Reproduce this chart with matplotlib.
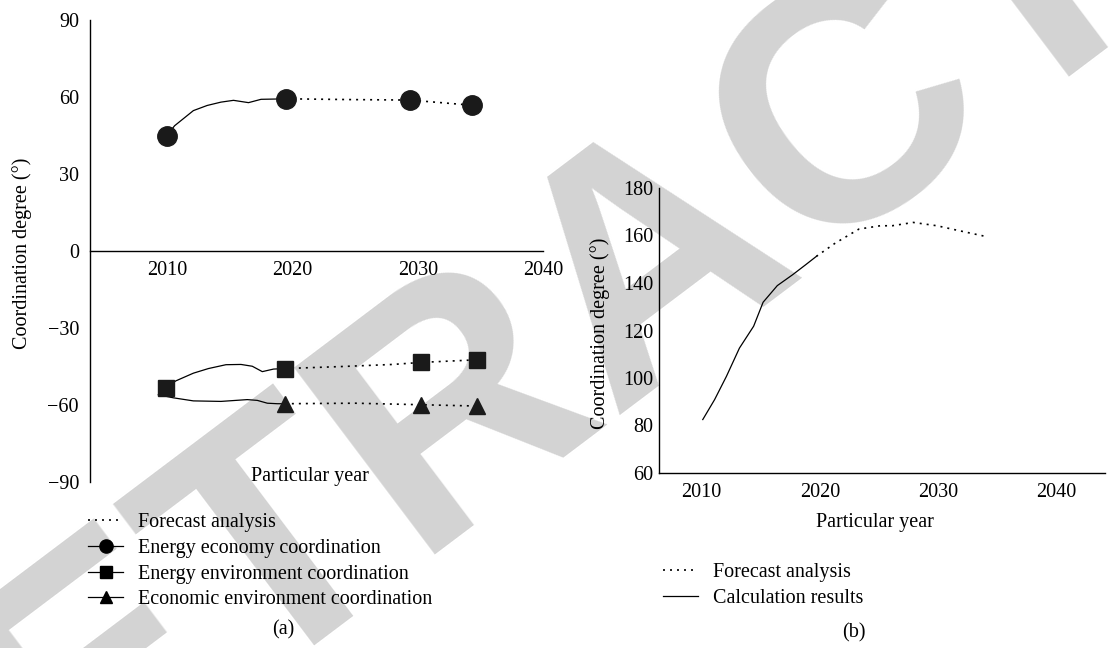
import matplotlib
matplotlib.use("Agg")
import matplotlib.pyplot as plt
from matplotlib.lines import Line2D

plt.rcParams['font.family'] = ['Liberation Serif', 'DejaVu Serif']
plt.rcParams['font.size'] = 14.5

W, H = 1109, 648

# --- (a) coordination degree of the three subsystems
ee_calc_x = [2010.0, 2010.6, 2012.1, 2013.2, 2014.3, 2015.3, 2016.5, 2017.5, 2018.6, 2019.5]
ee_calc = [45.0, 48.8, 54.7, 56.7, 58.0, 58.7, 57.8, 59.1, 59.2, 59.3]
ee_fc_x = [2019.5, 2024.5, 2029.4, 2034.3]
ee_fc = [59.3, 59.0, 58.8, 56.8]

env_calc_x = [2009.9, 2010.7, 2012.1, 2013.3, 2014.7, 2015.9, 2016.8, 2017.6, 2018.5, 2019.4]
env_calc = [-53.3, -50.6, -47.6, -45.8, -44.3, -44.2, -44.9, -47.0, -46.0, -45.8]
env_fc_x = [2019.4, 2024.0, 2028.0, 2030.3, 2034.7]
env_fc = [-45.8, -45.0, -44.2, -43.4, -42.4]

eco_calc_x = [2009.3, 2010.5, 2012.1, 2014.3, 2016.4, 2017.2, 2018.0, 2018.8, 2019.4]
eco_calc = [-56.0, -57.2, -58.4, -58.6, -57.9, -58.2, -59.3, -59.5, -59.5]
eco_fc_x = [2019.4, 2025.0, 2030.3, 2034.7]
eco_fc = [-59.5, -59.3, -59.9, -60.4]

# --- (b) overall coordination degree
tot_calc_x = [2010.1, 2011.1, 2012.1, 2013.2, 2014.4, 2015.2, 2016.4, 2017.7, 2018.8, 2019.7]
tot_calc = [82.5, 90.9, 100.7, 112.6, 121.8, 131.9, 138.9, 143.5, 147.7, 151.2]
tot_fc_x = [2019.7, 2021.3, 2023.3, 2025.1, 2026.1, 2027.9, 2029.9, 2031.8, 2034.2]
tot_fc = [151.2, 156.8, 162.7, 164.1, 164.1, 165.5, 164.1, 162.0, 159.4]

year_ticks = [2010, 2020, 2030, 2040]

dotted = (0, (1.2, 3))
lw = 0.9


def px_box(left, top, right, bottom):
    return [left / W, 1 - bottom / H, (right - left) / W, (bottom - top) / H]


fig = plt.figure(figsize=(W / 100, H / 100), dpi=100)

# grey stamp behind everything
fig.text(655 / W, 1 - 262 / H, "RETRACTED", rotation=37, fontsize=245,
         family='Liberation Sans', weight='bold', color='#d3d3d3',
         ha='center', va='center', zorder=-1)

# ---------- panel (a)
ax1 = fig.add_axes(px_box(90, 20, 543, 482))
ax1.patch.set_alpha(0)
ax1.set_xlim(2003.85, 2040)
ax1.set_ylim(-90, 90)
for s in ['top', 'right']:
    ax1.spines[s].set_visible(False)
ax1.spines['bottom'].set_position(('data', 0))
for s in ['left', 'bottom']:
    ax1.spines[s].set_linewidth(1.0)
ax1.set_xticks(year_ticks)
ax1.set_yticks(range(-90, 91, 30))
ax1.tick_params(length=0)
ax1.tick_params(axis='x', pad=7)
ax1.tick_params(axis='y', pad=8)

series = [
    (ee_calc_x, ee_calc, ee_fc_x, ee_fc, 'o', 14, [0, 2, 3]),
    (env_calc_x, env_calc, env_fc_x, env_fc, 's', 12, [0, 3, 4]),
    (eco_calc_x, eco_calc, eco_fc_x, eco_fc, '^', 12, [0, 2, 3]),
]
for cx, cy, fx, fy, mk, ms, every in series:
    ax1.plot(cx, cy, color='k', lw=lw, zorder=2)
    ax1.plot(fx, fy, color='k', lw=1.2, ls=dotted, zorder=2)
    ax1.plot(fx, fy, ls='none', marker=mk, ms=ms, color='#1a1a1a',
             markevery=every, zorder=3)
# starting markers of the 2010 values
ax1.plot(env_calc_x[:1], env_calc[:1], ls='none', marker='s', ms=12,
         color='#1a1a1a', zorder=3)
ax1.plot(ee_calc_x[:1], ee_calc[:1], ls='none', marker='o', ms=14,
         color='#1a1a1a', zorder=3)

fig.text(22 / W, 1 - 253 / H, "Coordination degree (°)", rotation=90,
         ha='center', va='center')
fig.text(310 / W, 1 - 477 / H, "Particular year", ha='center', va='center')

h_a = [
    Line2D([], [], color='k', lw=1.2, ls=dotted),
    Line2D([], [], color='k', lw=lw, marker='o', ms=9.5),
    Line2D([], [], color='k', lw=lw, marker='s', ms=8.5),
    Line2D([], [], color='k', lw=lw, marker='^', ms=8.5),
]
labels_a = ["Forecast analysis", "Energy economy coordination",
            "Energy environment coordination", "Economic environment coordination"]
fig.legend(h_a, labels_a, loc='upper left', bbox_to_anchor=(78 / W, 1 - 503 / H),
           frameon=False, borderpad=0, handlelength=1.75, handletextpad=0.75,
           labelspacing=0.33)
fig.text(283 / W, 1 - 630 / H, "(a)", ha='center', va='center')

# ---------- panel (b)
ax2 = fig.add_axes(px_box(659, 188, 1105, 473))
ax2.patch.set_alpha(0)
ax2.set_xlim(2006.4, 2044.1)
ax2.set_ylim(60, 180)
for s in ['top', 'right']:
    ax2.spines[s].set_visible(False)
for s in ['left', 'bottom']:
    ax2.spines[s].set_linewidth(1.0)
ax2.set_xticks(year_ticks)
ax2.set_yticks(range(60, 181, 20))
ax2.tick_params(length=0)
ax2.tick_params(axis='x', pad=7)
ax2.tick_params(axis='y', pad=4)

ax2.plot(tot_calc_x, tot_calc, color='k', lw=lw)
ax2.plot(tot_fc_x, tot_fc, color='k', lw=1.2, ls=dotted)

fig.text(600 / W, 1 - 333 / H, "Coordination degree (°)", rotation=90,
         ha='center', va='center')
fig.text(875 / W, 1 - 522 / H, "Particular year", ha='center', va='center')

h_b = [
    Line2D([], [], color='k', lw=1.2, ls=dotted),
    Line2D([], [], color='k', lw=lw),
]
fig.legend(h_b, ["Forecast analysis", "Calculation results"], loc='upper left',
           bbox_to_anchor=(653 / W, 1 - 553 / H), frameon=False, borderpad=0,
           handlelength=1.75, handletextpad=0.75, labelspacing=0.33)
fig.text(854 / W, 1 - 633 / H, "(b)", ha='center', va='center')

fig.savefig("out.png", dpi=100)
